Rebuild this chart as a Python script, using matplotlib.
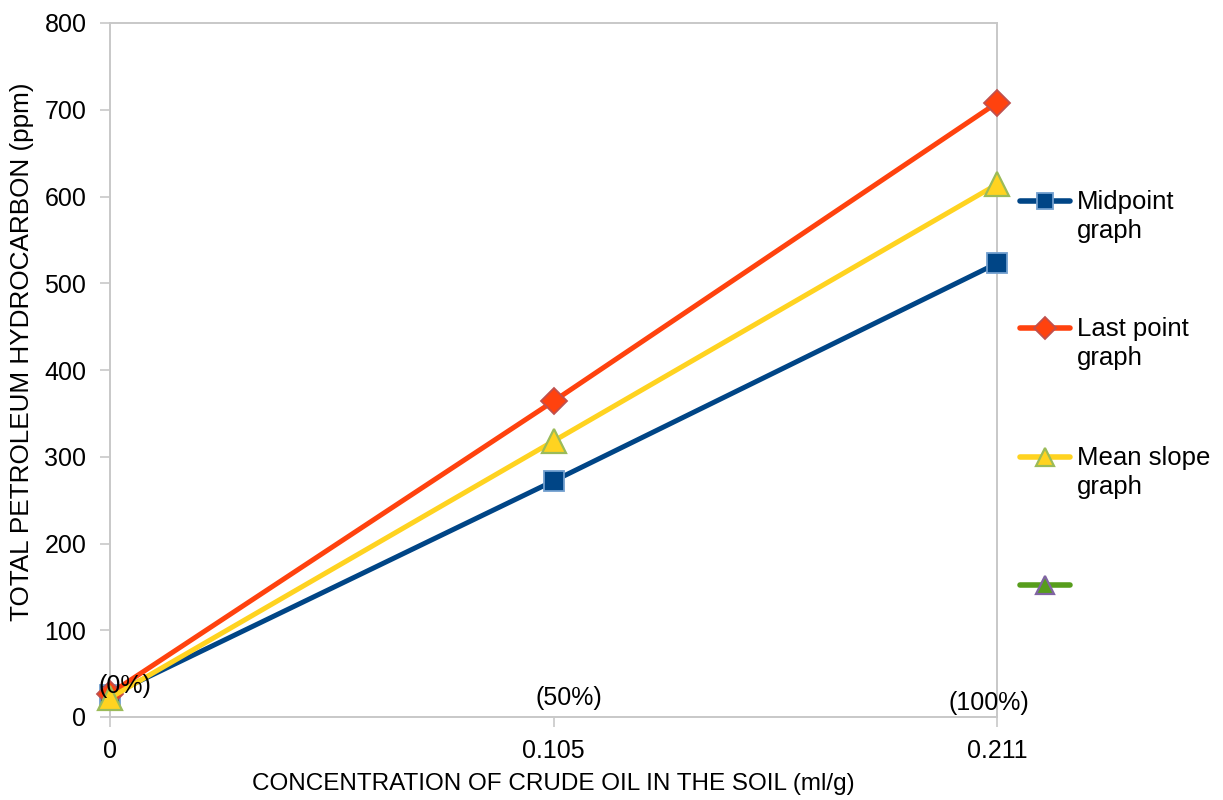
import matplotlib
matplotlib.use("Agg")
import matplotlib.pyplot as plt
from matplotlib.lines import Line2D

plt.rcParams['font.family'] = ['Liberation Sans', 'DejaVu Sans']

# Concentration categories and TPH readings
x_labels = ["0", "0.105", "0.211"]
pct_labels = ["(0%)", "(50%)", "(100%)"]
midpoint = [25, 272, 523]
last_point = [27, 364, 708]
mean_slope = [22, 318, 614]

y_ticks = [0, 100, 200, 300, 400, 500, 600, 700, 800]

W, H = 1223, 800
fig = plt.figure(figsize=(W / 100, H / 100), dpi=100)
ax = fig.add_axes([110 / W, 83 / H, 887 / W, 694 / H])

pos = list(range(len(x_labels)))
grey = "#c8c8c8"

styles = [
    dict(color="#004586", marker="s", mfc="#004586", mec="#729fcf", mew=1.3),
    dict(color="#ff420e", marker="D", mfc="#ff420e", mec="#c0504d", mew=1.3),
    dict(color="#ffd320", marker="^", mfc="#ffd320", mec="#9bbb59", mew=1.6),
    dict(color="#579d1c", marker="^", mfc="#579d1c", mec="#8064a2", mew=1.6),
]
sizes = [15, 13, 17]

for vals, st, ms in zip([midpoint, last_point, mean_slope], styles, sizes):
    ax.plot(pos, vals, lw=3.6, ms=ms, zorder=3, clip_on=False, **st)

ax.set_xlim(0, 2)
ax.set_ylim(0, 800)
ax.set_xticks(pos)
ax.set_xticklabels(x_labels)
ax.set_yticks(y_ticks)
ax.tick_params(axis="both", labelsize=18, length=7, width=1.2, color=grey,
               direction="out", pad=10)
ax.tick_params(axis="x", pad=9)
for s in ax.spines.values():
    s.set_color(grey)
    s.set_linewidth(1.4)

# Percentage annotations above each category
pct_offsets = [(15, 31), (15, 19), (-8, 14)]
for p, lab, (dx, dy) in zip(pos, pct_labels, pct_offsets):
    ax.annotate(lab, (p, 0), xytext=(dx, dy), textcoords="offset pixels",
                ha="center", va="center", fontsize=18, zorder=4)

ax.set_xlabel("CONCENTRATION OF CRUDE OIL IN THE SOIL (ml/g)", fontsize=17.5,
              labelpad=7)
ax.set_ylabel("TOTAL PETROLEUM HYDROCARBON (ppm)", fontsize=18.8)
ax.yaxis.set_label_coords((34 - 110) / 887, (717 - 352) / 694)

# Legend on the right: line-with-marker handle beside the first text line
legend_labels = ["Midpoint\ngraph", "Last point\ngraph", "Mean slope\ngraph", ""]
legend_y = [201, 328, 457, 585]
legend_ms = [12, 11, 13, 13]
for lab, yp, st, ms in zip(legend_labels, legend_y, styles, legend_ms):
    yf = 1 - yp / H
    fig.add_artist(Line2D([1020 / W, 1070 / W], [yf, yf], lw=4, ms=0,
                          solid_capstyle="round", transform=fig.transFigure,
                          color=st["color"]))
    fig.add_artist(Line2D([1045 / W], [yf], lw=0, ms=ms,
                          transform=fig.transFigure,
                          **{k: v for k, v in st.items() if k != "color"}))
    if lab:
        fig.text(1077 / W, yf + 11 / H, lab, ha="left", va="top",
                 fontsize=18.5, linespacing=1.25)

fig.savefig("out.png", dpi=100, facecolor="white")
